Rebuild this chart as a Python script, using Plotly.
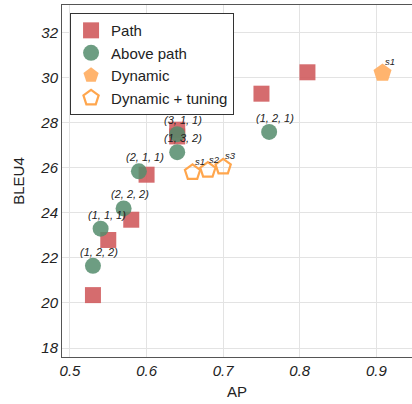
import plotly.graph_objects as go

# AP vs BLEU4 for the different strategies
path_ap = [0.53, 0.55, 0.58, 0.60, 0.64, 0.64, 0.75, 0.81]
path_bleu = [20.35, 22.8, 23.7, 25.7, 27.7, 27.4, 29.3, 30.25]

above_ap = [0.53, 0.54, 0.57, 0.59, 0.64, 0.64, 0.76]
above_bleu = [21.65, 23.3, 24.2, 25.85, 27.5, 26.7, 27.6]
above_labels = ["(1, 2, 2)", "(1, 1, 1)", "(2, 2, 2)", "(2, 1, 1)",
                "(3, 1, 1)", "(1, 3, 2)", "(1, 2, 1)"]

dyn_ap = [0.908]
dyn_bleu = [30.22]
dyn_labels = ["s1"]

tune_ap = [0.66, 0.68, 0.70]
tune_bleu = [25.8, 25.9, 26.05]
tune_labels = ["s1", "s2", "s3"]

y_ticks = [18, 20, 22, 24, 26, 28, 30, 32]
x_ticks = [0.5, 0.6, 0.7, 0.8, 0.9]

RED = "rgba(207,88,90,0.88)"
GREEN = "rgba(84,140,108,0.85)"
ORANGE = "#ffb46e"
ORANGE_LINE = "#ffa64d"
FONT = "Liberation Sans"

fig = go.Figure()
fig.add_trace(go.Scatter(
    x=path_ap, y=path_bleu, mode="markers", name="Path",
    marker=dict(symbol="square", size=16, color=RED, line=dict(width=0)),
))
fig.add_trace(go.Scatter(
    x=above_ap, y=above_bleu, mode="markers", name="Above path",
    marker=dict(symbol="circle", size=16, color=GREEN, line=dict(width=0)),
))
fig.add_trace(go.Scatter(
    x=dyn_ap, y=dyn_bleu, mode="markers", name="Dynamic",
    marker=dict(symbol="pentagon", size=19, color=ORANGE, line=dict(width=0)),
))
fig.add_trace(go.Scatter(
    x=tune_ap, y=tune_bleu, mode="markers", name="Dynamic + tuning",
    marker=dict(symbol="pentagon-open", size=16, color=ORANGE_LINE,
                line=dict(width=2.2, color=ORANGE_LINE)),
))

# configuration labels above the points
for xa, yb, t in zip(above_ap, above_bleu, above_labels):
    fig.add_annotation(x=xa, y=yb, text=t, showarrow=False,
                       xshift=6, yshift=14,
                       font=dict(family=FONT, size=11, color="#222", style="italic"))
for xa, yb, t in zip(dyn_ap + tune_ap, dyn_bleu + tune_bleu, dyn_labels + tune_labels):
    fig.add_annotation(x=xa, y=yb, text=t, showarrow=False,
                       xshift=7, yshift=11,
                       font=dict(family=FONT, size=9.5, color="#222", style="italic"))

axis_common = dict(
    showgrid=True, gridcolor="#e3e3e3", gridwidth=1,
    showline=True, linecolor="#555", linewidth=1,
    zeroline=False, ticks="",
    tickfont=dict(family=FONT, size=15, color="#222", style="italic"),
    title_font=dict(family=FONT, size=15, color="#222"),
)

fig.update_xaxes(
    **axis_common, range=[0.4896, 0.9465], tickvals=x_ticks,
    ticktext=[f"{v:.1f}" for v in x_ticks], mirror=True,
    title_text="AP", title_standoff=8,
)
fig.update_yaxes(
    **axis_common, range=[17.6, 33.24], tickvals=y_ticks,
    title_text="BLEU4", title_standoff=12,
)

fig.update_layout(
    width=412, height=404,
    margin=dict(l=62, r=0, t=5, b=47),
    plot_bgcolor="white", paper_bgcolor="white",
    legend=dict(
        x=0.023, y=0.977, xanchor="left", yanchor="top",
        bgcolor="white", bordercolor="#333", borderwidth=1,
        font=dict(family=FONT, size=15, color="#222"),
        itemsizing="trace", itemwidth=30, tracegroupgap=0,
    ),
)

fig.write_html("out.html")
